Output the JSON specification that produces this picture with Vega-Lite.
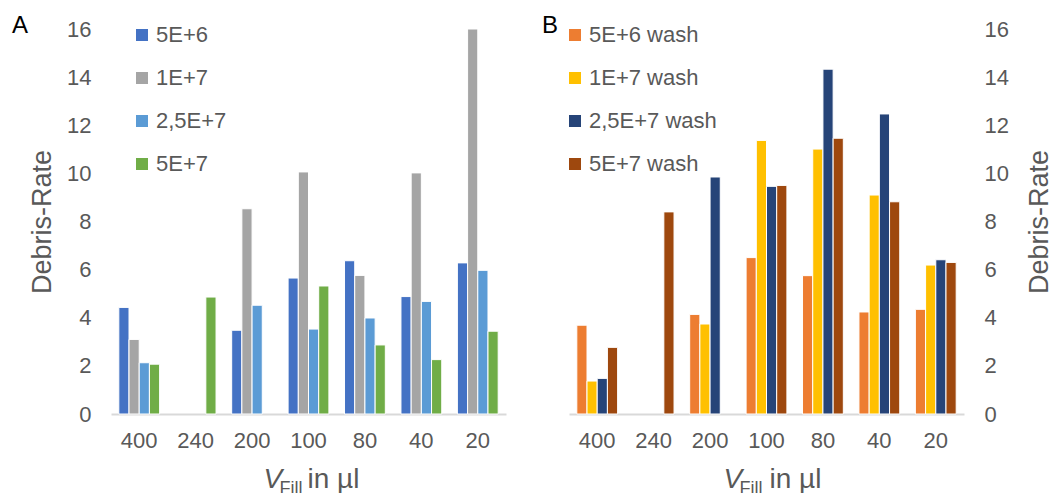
{
  "$schema": "https://vega.github.io/schema/vega-lite/v6.json",
  "background": "white",
  "padding": {"left": 12, "top": 14, "right": 0, "bottom": 0},
  "spacing": 36,
  "config": {
    "view": {"stroke": null},
    "font": "Liberation Sans",
    "axis": {
      "labelColor": "#595959",
      "titleColor": "#595959",
      "labelFont": "Liberation Sans",
      "titleFont": "Liberation Sans",
      "titleFontWeight": "normal",
      "grid": false,
      "ticks": false,
      "tickSize": 0
    },
    "legend": {
      "orient": "none",
      "title": null,
      "padding": 0,
      "symbolType": "square",
      "symbolSize": 144,
      "symbolStrokeWidth": 0,
      "labelFont": "Liberation Sans",
      "labelFontSize": 22,
      "labelColor": "#595959",
      "labelOffset": 3,
      "rowPadding": 21
    },
    "title": {
      "font": "Liberation Sans",
      "fontSize": 24,
      "fontWeight": "normal",
      "color": "#000000",
      "anchor": "start",
      "frame": "group",
      "baseline": "alphabetic"
    }
  },
  "datasets": {
    "cells": [
      {"vol": "400", "series": "5E+6", "rate": 4.43},
      {"vol": "400", "series": "1E+7", "rate": 3.10},
      {"vol": "400", "series": "2,5E+7", "rate": 2.13},
      {"vol": "400", "series": "5E+7", "rate": 2.07},
      {"vol": "240", "series": "5E+7", "rate": 4.86},
      {"vol": "200", "series": "5E+6", "rate": 3.48},
      {"vol": "200", "series": "1E+7", "rate": 8.53},
      {"vol": "200", "series": "2,5E+7", "rate": 4.52},
      {"vol": "100", "series": "5E+6", "rate": 5.65},
      {"vol": "100", "series": "1E+7", "rate": 10.06},
      {"vol": "100", "series": "2,5E+7", "rate": 3.53},
      {"vol": "100", "series": "5E+7", "rate": 5.32},
      {"vol": "80", "series": "5E+6", "rate": 6.37},
      {"vol": "80", "series": "1E+7", "rate": 5.76},
      {"vol": "80", "series": "2,5E+7", "rate": 3.99},
      {"vol": "80", "series": "5E+7", "rate": 2.87},
      {"vol": "40", "series": "5E+6", "rate": 4.88},
      {"vol": "40", "series": "1E+7", "rate": 10.02},
      {"vol": "40", "series": "2,5E+7", "rate": 4.68},
      {"vol": "40", "series": "5E+7", "rate": 2.26},
      {"vol": "20", "series": "5E+6", "rate": 6.28},
      {"vol": "20", "series": "1E+7", "rate": 16.0},
      {"vol": "20", "series": "2,5E+7", "rate": 5.97},
      {"vol": "20", "series": "5E+7", "rate": 3.44}
    ],
    "washed": [
      {"vol": "400", "series": "5E+6 wash", "rate": 3.69},
      {"vol": "400", "series": "1E+7 wash", "rate": 1.37},
      {"vol": "400", "series": "2,5E+7 wash", "rate": 1.48},
      {"vol": "400", "series": "5E+7 wash", "rate": 2.77},
      {"vol": "240", "series": "5E+7 wash", "rate": 8.40},
      {"vol": "200", "series": "5E+6 wash", "rate": 4.14},
      {"vol": "200", "series": "1E+7 wash", "rate": 3.74},
      {"vol": "200", "series": "2,5E+7 wash", "rate": 9.85},
      {"vol": "100", "series": "5E+6 wash", "rate": 6.50},
      {"vol": "100", "series": "1E+7 wash", "rate": 11.37},
      {"vol": "100", "series": "2,5E+7 wash", "rate": 9.46},
      {"vol": "100", "series": "5E+7 wash", "rate": 9.50},
      {"vol": "80", "series": "5E+6 wash", "rate": 5.75},
      {"vol": "80", "series": "1E+7 wash", "rate": 11.01},
      {"vol": "80", "series": "2,5E+7 wash", "rate": 14.33},
      {"vol": "80", "series": "5E+7 wash", "rate": 11.46},
      {"vol": "40", "series": "5E+6 wash", "rate": 4.24},
      {"vol": "40", "series": "1E+7 wash", "rate": 9.10},
      {"vol": "40", "series": "2,5E+7 wash", "rate": 12.47},
      {"vol": "40", "series": "5E+7 wash", "rate": 8.82},
      {"vol": "20", "series": "5E+6 wash", "rate": 4.35},
      {"vol": "20", "series": "1E+7 wash", "rate": 6.19},
      {"vol": "20", "series": "2,5E+7 wash", "rate": 6.41},
      {"vol": "20", "series": "5E+7 wash", "rate": 6.30}
    ]
  },
  "hconcat": [
    {
      "width": 395,
      "height": 385,
      "title": {"text": "A", "dx": -99, "offset": -20},
      "data": {"name": "cells"},
      "layer": [
        {
          "mark": {"type": "bar", "stroke": "white", "strokeWidth": 1},
          "encoding": {
            "x": {
              "field": "vol", "type": "nominal",
              "sort": ["400", "240", "200", "100", "80", "40", "20"],
              "scale": {"paddingInner": 0.277, "paddingOuter": 0.1385},
              "axis": {
                "orient": "bottom",
                "labelAngle": 0, "labelFontSize": 22, "labelPadding": 16,
                "domain": true, "domainColor": "#D9D9D9", "domainWidth": 2,
                "title": "V", "titleFontSize": 28, "titleFontStyle": "italic",
                "titleAlign": "left", "titleBaseline": "alphabetic",
                "titleX": 152, "titleY": 73
              }
            },
            "xOffset": {
              "field": "series", "type": "nominal",
              "scale": {"domain": ["5E+6", "1E+7", "2,5E+7", "5E+7"]}
            },
            "y": {
              "field": "rate", "type": "quantitative",
              "scale": {"domain": [0, 16]},
              "axis": {
                "orient": "left",
                "values": [0, 2, 4, 6, 8, 10, 12, 14, 16],
                "labelFontSize": 22, "labelPadding": 20, "domain": false,
                "title": "Debris-Rate", "titleFontSize": 27, "titlePadding": 10
              }
            },
            "color": {
              "field": "series", "type": "nominal",
              "scale": {
                "domain": ["5E+6", "1E+7", "2,5E+7", "5E+7"],
                "range": ["#4472C4", "#A5A5A5", "#5B9BD5", "#70AD47"]
              },
              "legend": {"legendX": 20, "legendY": -5}
            }
          }
        },
        {
          "mark": {"type": "rule", "opacity": 0},
          "encoding": {
            "x": {
              "field": "vol", "type": "nominal",
              "sort": ["400", "240", "200", "100", "80", "40", "20"],
              "axis": {
                "orient": "bottom", "labels": false, "domain": false,
                "title": "Fill", "titleFontSize": 18,
                "titleAlign": "left", "titleBaseline": "alphabetic",
                "titleX": 168, "titleY": 79
              }
            }
          }
        },
        {
          "mark": {"type": "rule", "opacity": 0},
          "encoding": {
            "x": {
              "field": "vol", "type": "nominal",
              "sort": ["400", "240", "200", "100", "80", "40", "20"],
              "axis": {
                "orient": "bottom", "labels": false, "domain": false,
                "title": "in µl", "titleFontSize": 28,
                "titleAlign": "left", "titleBaseline": "alphabetic",
                "titleX": 196, "titleY": 73
              }
            }
          }
        }
      ],
      "resolve": {"axis": {"x": "independent"}}
    },
    {
      "width": 395,
      "height": 385,
      "title": {"text": "B", "dx": -27, "offset": -20},
      "data": {"name": "washed"},
      "layer": [
        {
          "mark": {"type": "bar", "stroke": "white", "strokeWidth": 1},
          "encoding": {
            "x": {
              "field": "vol", "type": "nominal",
              "sort": ["400", "240", "200", "100", "80", "40", "20"],
              "scale": {"paddingInner": 0.277, "paddingOuter": 0.1385},
              "axis": {
                "orient": "bottom",
                "labelAngle": 0, "labelFontSize": 22, "labelPadding": 16,
                "domain": true, "domainColor": "#D9D9D9", "domainWidth": 2,
                "title": "V", "titleFontSize": 28, "titleFontStyle": "italic",
                "titleAlign": "left", "titleBaseline": "alphabetic",
                "titleX": 154, "titleY": 73
              }
            },
            "xOffset": {
              "field": "series", "type": "nominal",
              "scale": {"domain": ["5E+6 wash", "1E+7 wash", "2,5E+7 wash", "5E+7 wash"]}
            },
            "y": {
              "field": "rate", "type": "quantitative",
              "scale": {"domain": [0, 16]},
              "axis": {
                "orient": "right",
                "values": [0, 2, 4, 6, 8, 10, 12, 14, 16],
                "labelFontSize": 22, "labelPadding": 20, "domain": false,
                "title": "Debris-Rate", "titleFontSize": 27, "titlePadding": 18,
                "titleAngle": 270, "titleBaseline": "top"
              }
            },
            "color": {
              "field": "series", "type": "nominal",
              "scale": {
                "domain": ["5E+6 wash", "1E+7 wash", "2,5E+7 wash", "5E+7 wash"],
                "range": ["#ED7D31", "#FFC000", "#264478", "#9E480E"]
              },
              "legend": {"legendX": -5, "legendY": -5}
            }
          }
        },
        {
          "mark": {"type": "rule", "opacity": 0},
          "encoding": {
            "x": {
              "field": "vol", "type": "nominal",
              "sort": ["400", "240", "200", "100", "80", "40", "20"],
              "axis": {
                "orient": "bottom", "labels": false, "domain": false,
                "title": "Fill", "titleFontSize": 18,
                "titleAlign": "left", "titleBaseline": "alphabetic",
                "titleX": 170, "titleY": 79
              }
            }
          }
        },
        {
          "mark": {"type": "rule", "opacity": 0},
          "encoding": {
            "x": {
              "field": "vol", "type": "nominal",
              "sort": ["400", "240", "200", "100", "80", "40", "20"],
              "axis": {
                "orient": "bottom", "labels": false, "domain": false,
                "title": "in µl", "titleFontSize": 28,
                "titleAlign": "left", "titleBaseline": "alphabetic",
                "titleX": 200, "titleY": 73
              }
            }
          }
        }
      ],
      "resolve": {"axis": {"x": "independent"}}
    }
  ],
  "resolve": {
    "scale": {"x": "independent", "y": "independent", "xOffset": "independent", "color": "independent"},
    "legend": {"color": "independent"}
  }
}
